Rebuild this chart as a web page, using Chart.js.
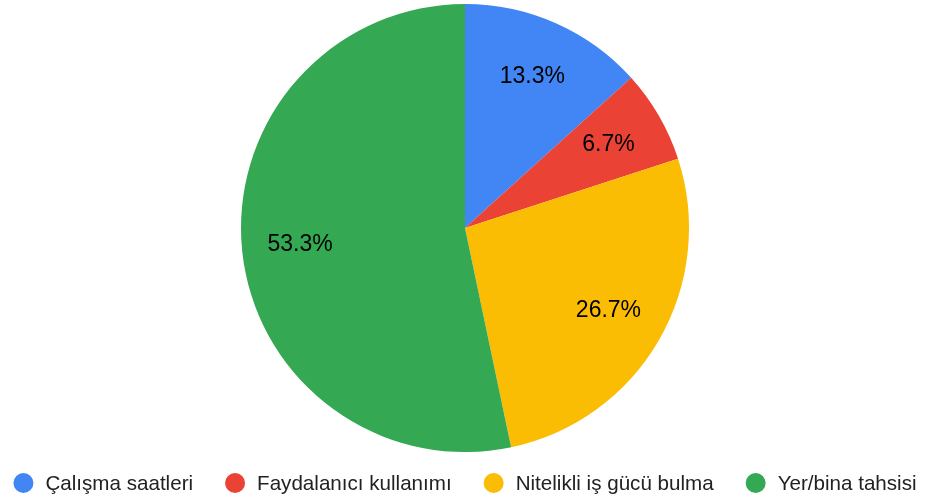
<!DOCTYPE html>
<html>
<head>
<meta charset="utf-8">
<script src="https://cdn.jsdelivr.net/npm/chart.js@4"></script>
<style>
  html, body { margin: 0; padding: 0; background: #fff; }
  #wrap { width: 925px; height: 499px; }
</style>
</head>
<body>
<div id="wrap"><canvas id="pieChart" width="925" height="499"></canvas></div>
<script>
// Chart data
const categories = ['Çalışma saatleri', 'Faydalanıcı kullanımı', 'Nitelikli iş gücü bulma', 'Yer/bina tahsisi'];
const values = [13.3, 6.7, 26.7, 53.3];
const colors = ['#4285F4', '#EA4335', '#FBBC04', '#34A853'];

const FONT = '"Liberation Sans", Arial, sans-serif';

// Draw percentage labels inside the slices
const sliceLabels = {
    id: 'sliceLabels',
    afterDatasetsDraw(chart) {
        const ctx = chart.ctx;
        const meta = chart.getDatasetMeta(0);
        ctx.save();
        ctx.font = '23px ' + FONT;
        ctx.fillStyle = '#000';
        ctx.textAlign = 'center';
        ctx.textBaseline = 'middle';
        meta.data.forEach((arc, i) => {
            const p = arc.getProps(['x', 'y', 'startAngle', 'endAngle', 'outerRadius'], true);
            const mid = (p.startAngle + p.endAngle) / 2;
            const r = p.outerRadius * 0.74;
            ctx.fillText(values[i].toFixed(1) + '%', p.x + Math.cos(mid) * r, p.y + Math.sin(mid) * r);
        });
        ctx.restore();
    }
};

// Legend row along the bottom, circles + labels
const bottomLegend = {
    id: 'bottomLegend',
    afterDraw(chart) {
        const ctx = chart.ctx;
        const dot = 10, gap = 12, spacing = 32;
        ctx.save();
        ctx.font = '20.6px ' + FONT;
        ctx.textBaseline = 'middle';
        ctx.textAlign = 'left';
        const widths = categories.map(c => ctx.measureText(c).width);
        const total = widths.reduce((s, w) => s + dot * 2 + gap + w, 0) + spacing * (categories.length - 1);
        let x = 465 - total / 2;
        const y = 483;
        categories.forEach((c, i) => {
            ctx.fillStyle = colors[i];
            ctx.beginPath();
            ctx.arc(x + dot, y, dot, 0, Math.PI * 2);
            ctx.fill();
            ctx.fillStyle = '#222';
            ctx.fillText(c, x + dot * 2 + gap, y + 1);
            x += dot * 2 + gap + widths[i] + spacing;
        });
        ctx.restore();
    }
};

document.addEventListener('DOMContentLoaded', () => {
    const ctx = document.getElementById('pieChart').getContext('2d');
    new Chart(ctx, {
        type: 'pie',
        data: {
            labels: categories,
            datasets: [{
                data: values,
                backgroundColor: colors,
                borderWidth: 0
            }]
        },
        options: {
            responsive: false,
            animation: false,
            layout: { padding: { top: 4, bottom: 47, left: 5 } },
            plugins: {
                legend: { display: false },
                tooltip: { enabled: false }
            }
        },
        plugins: [sliceLabels, bottomLegend]
    });
});
</script>
</body>
</html>
